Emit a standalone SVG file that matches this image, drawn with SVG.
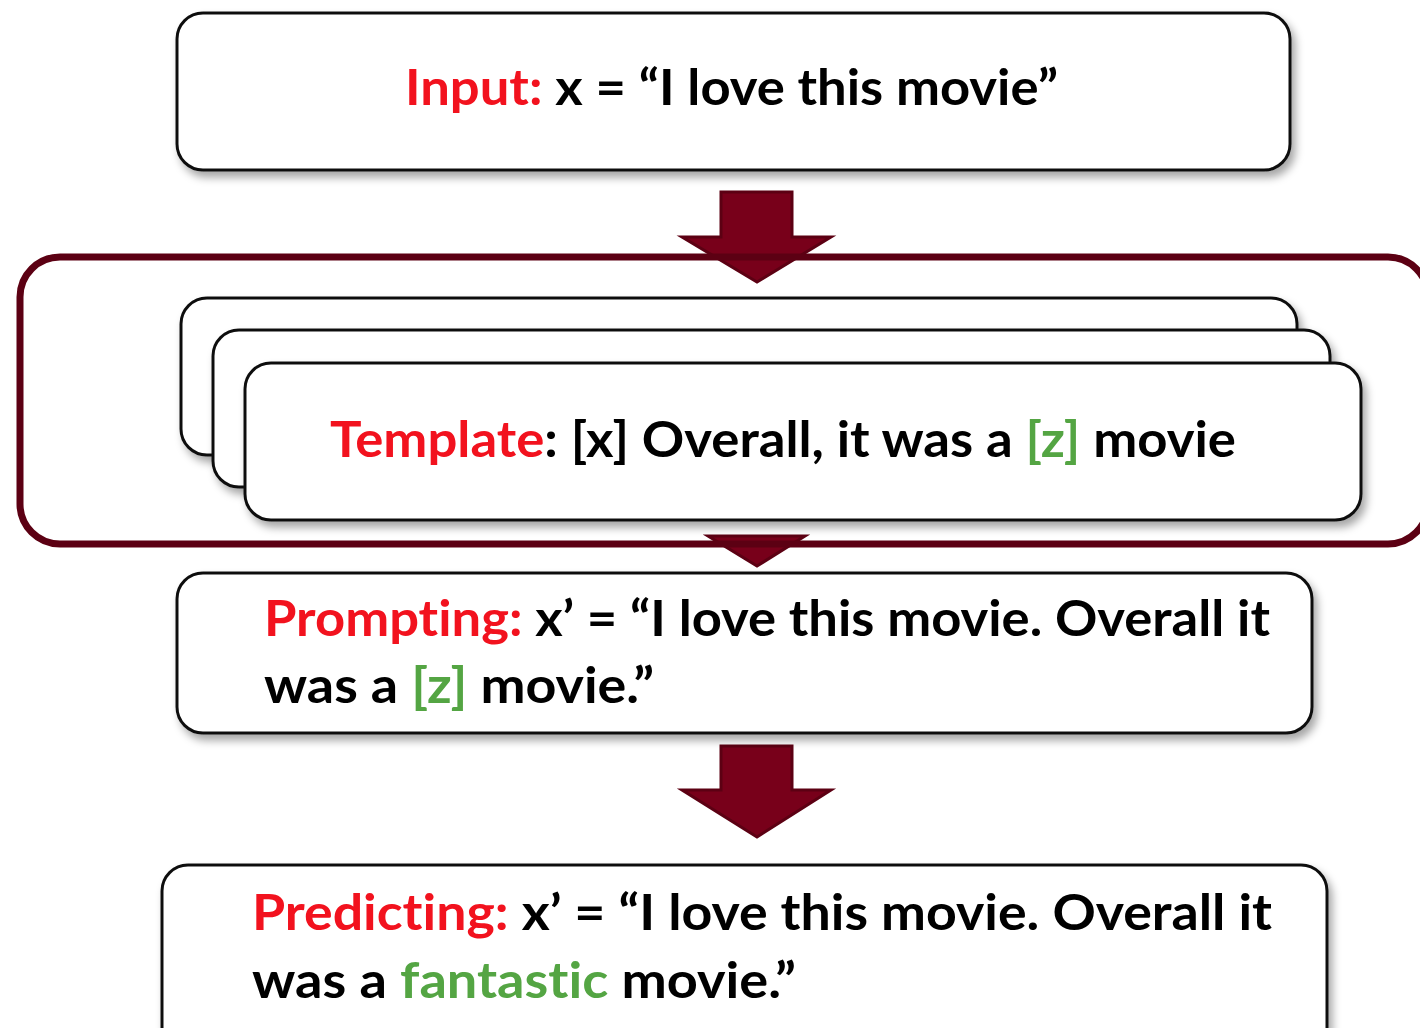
<svg xmlns="http://www.w3.org/2000/svg" width="1420" height="1028" viewBox="0 0 1420 1028">
<style>
.box{fill:#fff;stroke:#111;stroke-width:3;filter:url(#sh)}
.arrow{fill:#78001a;stroke:#5c0013;stroke-width:3;stroke-linejoin:miter}
.t{font-family:Lato,"Open Sans",sans-serif;font-weight:bold;font-size:50px;fill:#000;font-variant-ligatures:none;font-feature-settings:"liga" 0}
.r{fill:#f2121e}
.g{fill:#54a543}
</style>
<defs>
<filter id="sh" x="-5%" y="-20%" width="110%" height="150%">
<feDropShadow dx="4" dy="6" stdDeviation="4" flood-color="#000" flood-opacity="0.35"/>
</filter>
</defs>
<g id="connectors">
<path class="arrow" d="M721,192 H792 V237 H831 L757,282 L682,237 H721 Z"/>
<path class="arrow" d="M708,536 H805 L757,566 Z"/>
<path class="arrow" d="M721,746 H792 V790 H831 L757,837 L682,790 H721 Z"/>
</g>
<g id="input">
<rect class="box" x="177" y="13" width="1113" height="157" rx="26"/>
<text class="t" x="405" y="105" textLength="653" lengthAdjust="spacingAndGlyphs"><tspan class="r">Input:</tspan>  x = “I love this movie”</text>
</g>
<g id="template-group">
<rect x="20" y="257" width="1408" height="287" rx="40" fill="none" stroke="#5c0013" stroke-width="7"/>
<g id="template-back2"><rect class="box" x="181" y="298" width="1116" height="157" rx="26"/></g>
<g id="template-back1"><rect class="box" x="213" y="330" width="1117" height="157" rx="26"/></g>
<g id="template">
<rect class="box" x="245" y="363" width="1116" height="157" rx="26"/>
<text class="t" x="330" y="457" textLength="906" lengthAdjust="spacingAndGlyphs"><tspan class="r">Template</tspan>:  [x] Overall, it was a <tspan class="g">[z]</tspan> movie</text>
</g>
</g>
<g id="prompting">
<rect class="box" x="177" y="573" width="1135" height="160" rx="26"/>
<text class="t" x="264" y="636" textLength="1006" lengthAdjust="spacingAndGlyphs"><tspan class="r">Prompting:</tspan> x’ = “I love this movie. Overall it</text>
<text class="t" x="264" y="703" textLength="390" lengthAdjust="spacingAndGlyphs">was a <tspan class="g">[z]</tspan> movie.”</text>
</g>
<g id="predicting">
<rect class="box" x="162" y="865" width="1165" height="190" rx="26"/>
<text class="t" x="252" y="930" textLength="1020" lengthAdjust="spacingAndGlyphs"><tspan class="r">Predicting:</tspan> x’ = “I love this movie. Overall it</text>
<text class="t" x="252" y="998" textLength="544" lengthAdjust="spacingAndGlyphs">was a <tspan class="g">fantastic</tspan> movie.”</text>
</g>
</svg>
